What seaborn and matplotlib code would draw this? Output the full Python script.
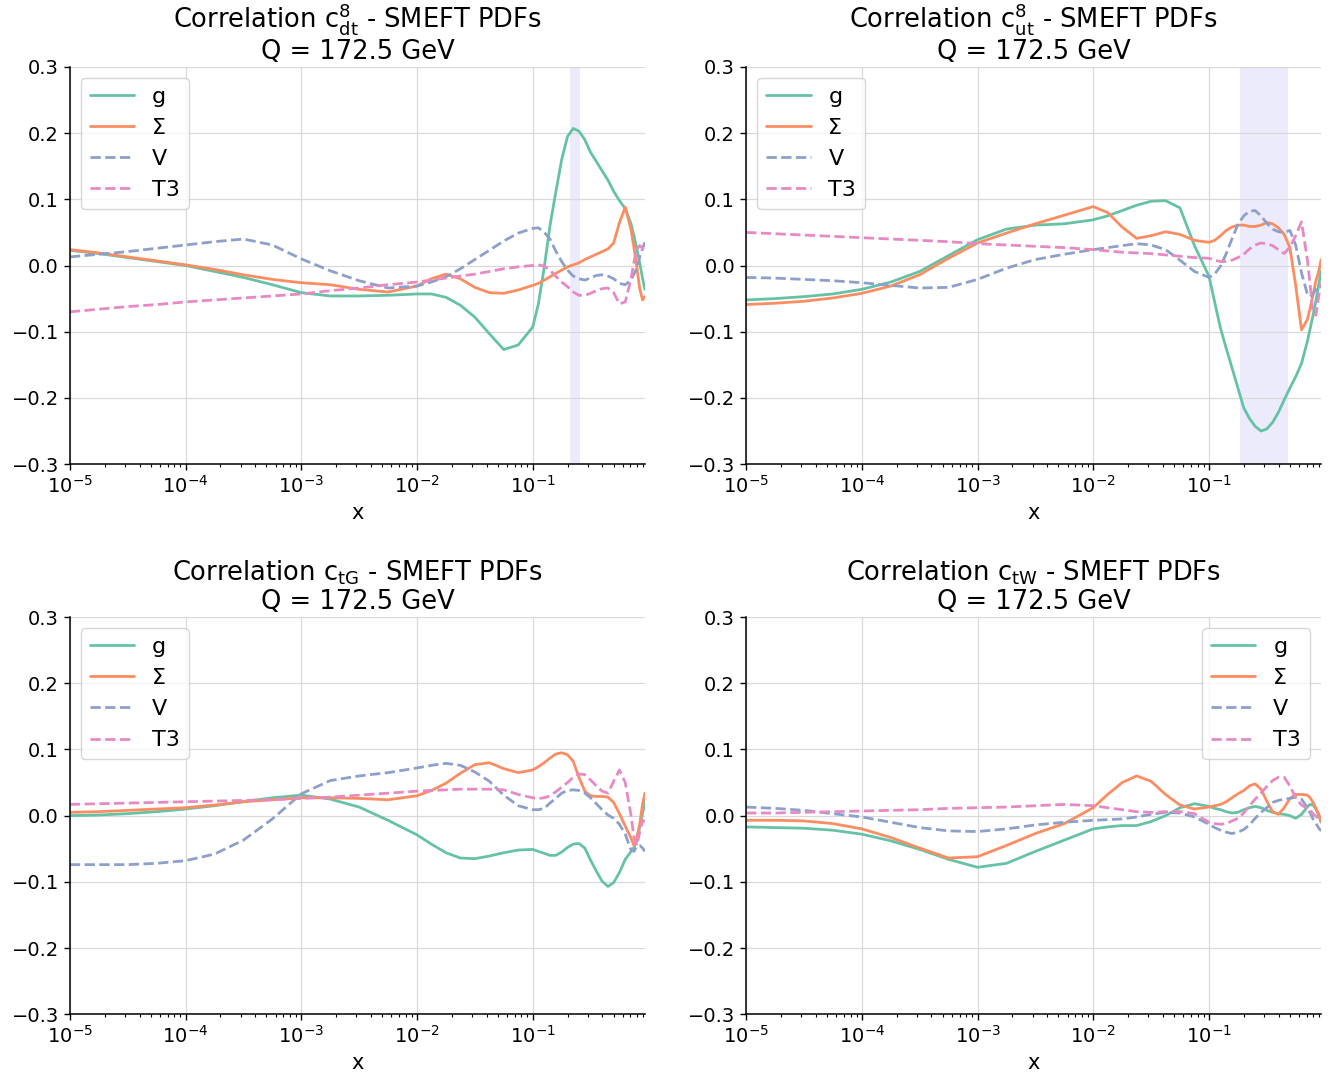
"""
Correlation between SMEFT coefficients and PDF combinations at Q = 172.5 GeV.
"""

import matplotlib

matplotlib.use("Agg")

import matplotlib.pyplot as plt
import seaborn as sns

# momentum fraction grid shared by every curve
X = [1.0e-5, 1.78e-5, 3.16e-5, 5.62e-5, 1.0e-4, 1.78e-4, 3.16e-4, 5.62e-4,
     1.0e-3, 1.78e-3, 3.16e-3, 5.62e-3, 0.01, 0.0133, 0.0178, 0.0237,
     0.0316, 0.0422, 0.0562, 0.075, 0.1, 0.112, 0.126, 0.141, 0.158,
     0.178, 0.2, 0.224, 0.251, 0.282, 0.316, 0.355, 0.398, 0.447, 0.501,
     0.562, 0.631, 0.708, 0.75, 0.794, 0.841, 0.891, 0.933]

PDF_LABELS = ["g", "Σ", "V", "T3"]

# c_dt^8
CDT8_G = [0.023, 0.018, 0.012, 0.006, 0.0, -0.009, -0.018, -0.029, -0.041, -0.046,
          -0.046, -0.045, -0.043, -0.043, -0.048, -0.06, -0.078, -0.103, -0.127, -0.12,
          -0.093, -0.058, -0.002, 0.06, 0.11, 0.16, 0.195, 0.207, 0.203, 0.19,
          0.171, 0.157, 0.143, 0.129, 0.112, 0.098, 0.086, 0.063, 0.045, 0.025,
          0.004, -0.02, -0.036]
CDT8_S = [0.024, 0.019, 0.013, 0.007, 0.001, -0.006, -0.014, -0.021, -0.026, -0.029,
          -0.036, -0.04, -0.031, -0.02, -0.013, -0.02, -0.033, -0.041, -0.042, -0.037,
          -0.03, -0.027, -0.022, -0.017, -0.012, -0.007, -0.002, 0.001, 0.004, 0.009,
          0.013, 0.017, 0.021, 0.025, 0.034, 0.065, 0.088, 0.054, 0.027, -0.002,
          -0.035, -0.052, -0.047]
CDT8_V = [0.013, 0.017, 0.021, 0.026, 0.031, 0.036, 0.04, 0.031, 0.01, -0.008,
          -0.023, -0.034, -0.031, -0.025, -0.017, -0.005, 0.009, 0.023, 0.037, 0.049,
          0.056, 0.057, 0.05, 0.04, 0.022, 0.006, -0.007, -0.016, -0.02, -0.022,
          -0.019, -0.015, -0.014, -0.016, -0.02, -0.027, -0.029, -0.022, -0.013, -0.004,
          0.013, 0.026, 0.035]
CDT8_T3 = [-0.07, -0.066, -0.062, -0.059, -0.055, -0.052, -0.049, -0.046, -0.043, -0.038,
           -0.034, -0.029, -0.025, -0.022, -0.019, -0.016, -0.013, -0.009, -0.005, -0.002,
           0.0, 0.001, -0.001, -0.007, -0.016, -0.025, -0.032, -0.04, -0.045, -0.045,
           -0.042, -0.038, -0.035, -0.034, -0.041, -0.058, -0.055, -0.02, 0.005, 0.025,
           0.03, 0.026, 0.022]

# c_ut^8
CUT8_G = [-0.052, -0.05, -0.047, -0.043, -0.036, -0.025, -0.009, 0.015, 0.039, 0.055,
          0.061, 0.063, 0.069, 0.075, 0.083, 0.091, 0.097, 0.098, 0.087, 0.03,
          -0.016, -0.055, -0.095, -0.125, -0.154, -0.185, -0.215, -0.231, -0.243, -0.25,
          -0.247, -0.237, -0.222, -0.203, -0.185, -0.168, -0.148, -0.115, -0.095, -0.075,
          -0.053, -0.028, -0.008]
CUT8_S = [-0.059, -0.057, -0.054, -0.049, -0.042, -0.031, -0.014, 0.011, 0.034, 0.049,
          0.063, 0.076, 0.089, 0.08, 0.058, 0.041, 0.045, 0.051, 0.047, 0.038,
          0.035, 0.038, 0.045, 0.053, 0.058, 0.061, 0.061, 0.059, 0.059, 0.061,
          0.065, 0.063, 0.057, 0.047, 0.027, -0.03, -0.097, -0.082, -0.064, -0.044,
          -0.023, -0.008, 0.009]
CUT8_V = [-0.018, -0.019, -0.021, -0.023, -0.026, -0.03, -0.034, -0.033, -0.021, -0.004,
          0.009, 0.017, 0.024, 0.027, 0.03, 0.033, 0.031, 0.024, 0.008, -0.009,
          -0.018, -0.013, -0.001, 0.018, 0.04, 0.062, 0.075, 0.082, 0.083, 0.075,
          0.064, 0.055, 0.051, 0.05, 0.053, 0.031, -0.011, -0.043, -0.047, -0.043,
          -0.036, -0.031, -0.03]
CUT8_T3 = [0.05, 0.048, 0.046, 0.044, 0.042, 0.04, 0.038, 0.036, 0.033, 0.031,
           0.029, 0.027, 0.024, 0.022, 0.02, 0.019, 0.018, 0.016, 0.014, 0.012,
           0.011, 0.008, 0.006, 0.006, 0.008, 0.012, 0.017, 0.025, 0.031, 0.034,
           0.033, 0.03, 0.024, 0.018, 0.028, 0.045, 0.066, 0.01, -0.03, -0.072,
           -0.075, -0.045, -0.026]

# c_tG
CTG_G = [0.0, 0.001, 0.003, 0.006, 0.01, 0.015, 0.021, 0.027, 0.031, 0.025,
         0.013, -0.007, -0.029, -0.043, -0.056, -0.064, -0.065, -0.061, -0.056, -0.052,
         -0.051, -0.054, -0.057, -0.06, -0.06, -0.055, -0.048, -0.043, -0.042, -0.049,
         -0.067, -0.084, -0.099, -0.107, -0.101, -0.086, -0.066, -0.054, -0.048, -0.038,
         -0.017, 0.004, 0.022]
CTG_S = [0.005, 0.006, 0.008, 0.01, 0.012, 0.016, 0.021, 0.024, 0.027, 0.027,
         0.026, 0.024, 0.03, 0.038, 0.049, 0.064, 0.077, 0.08, 0.071, 0.065,
         0.069, 0.074, 0.08, 0.087, 0.093, 0.095, 0.092, 0.082, 0.058, 0.037,
         0.03, 0.029, 0.029, 0.028, 0.02, 0.003, -0.016, -0.034, -0.045, -0.033,
         -0.013, 0.018, 0.034]
CTG_V = [-0.074, -0.074, -0.074, -0.072, -0.068, -0.058, -0.037, -0.005, 0.033, 0.053,
         0.06, 0.065, 0.072, 0.076, 0.079, 0.076, 0.066, 0.052, 0.031, 0.015,
         0.009, 0.009, 0.011, 0.019, 0.026, 0.034, 0.038, 0.039, 0.038, 0.034,
         0.027, 0.018, 0.009, 0.001, -0.004, -0.013, -0.028, -0.052, -0.054, -0.046,
         -0.045, -0.049, -0.054]
CTG_T3 = [0.017, 0.018, 0.019, 0.02, 0.021, 0.022, 0.023, 0.024, 0.026, 0.028,
          0.031, 0.034, 0.037, 0.038, 0.039, 0.04, 0.04, 0.04, 0.039, 0.032,
          0.027, 0.026, 0.027, 0.03, 0.036, 0.043, 0.05, 0.058, 0.063, 0.062,
          0.054, 0.045, 0.037, 0.034, 0.052, 0.069, 0.05, 0.0, -0.033, -0.045,
          -0.025, -0.007, -0.009]

# c_tW
CTW_G = [-0.017, -0.018, -0.019, -0.022, -0.028, -0.038, -0.051, -0.066, -0.078, -0.072,
         -0.054, -0.037, -0.02, -0.017, -0.015, -0.015, -0.009, 0.0, 0.012, 0.018,
         0.014, 0.011, 0.009, 0.006, 0.004, 0.005, 0.009, 0.012, 0.014, 0.012,
         0.008, 0.005, 0.003, 0.002, 0.0, -0.004, 0.002, 0.013, 0.017, 0.016,
         0.01, 0.0, -0.01]
CTW_S = [-0.007, -0.007, -0.008, -0.012, -0.02, -0.033, -0.049, -0.064, -0.062, -0.045,
         -0.027, -0.012, 0.012, 0.032, 0.05, 0.06, 0.052, 0.032, 0.016, 0.01,
         0.013, 0.015, 0.017, 0.021, 0.027, 0.033, 0.038, 0.045, 0.048, 0.04,
         0.022, 0.006, 0.002, 0.012, 0.026, 0.032, 0.032, 0.031, 0.027, 0.02,
         0.011, 0.002, -0.009]
CTW_V = [0.013, 0.011, 0.008, 0.003, -0.002, -0.01, -0.018, -0.023, -0.024, -0.02,
         -0.014, -0.01, -0.007, -0.006, -0.005, -0.002, 0.002, 0.005, 0.004, -0.002,
         -0.013, -0.018, -0.022, -0.025, -0.027, -0.025, -0.021, -0.014, -0.004, 0.005,
         0.012, 0.02, 0.023, 0.025, 0.026, 0.028, 0.025, 0.012, 0.004, -0.005,
         -0.012, -0.019, -0.023]
CTW_T3 = [0.004, 0.004, 0.005, 0.006, 0.007, 0.008, 0.009, 0.011, 0.012, 0.013,
          0.015, 0.017, 0.015, 0.012, 0.009, 0.006, 0.005, 0.006, 0.006, 0.003,
          -0.01, -0.012, -0.013, -0.012, -0.008, -0.004, 0.004, 0.015, 0.025, 0.034,
          0.044, 0.053, 0.058, 0.058, 0.045, 0.027, 0.016, 0.011, 0.008, 0.003,
          -0.001, -0.005, -0.008]

TITLES = [
    r"Correlation $c^{8}_{dt}$ - SMEFT PDFs",
    r"Correlation $c^{8}_{ut}$ - SMEFT PDFs",
    r"Correlation $c_{tG}$ - SMEFT PDFs",
    r"Correlation $c_{tW}$ - SMEFT PDFs",
]

# x-range highlighted in each panel (None = no band)
BANDS = [(0.21, 0.255), (0.185, 0.48), None, None]

LEGEND_LOCS = ["upper left", "upper left", "upper left", "upper right"]

Y_TICKS = [-0.3, -0.2, -0.1, 0.0, 0.1, 0.2, 0.3]


def plot_panel(ax, title, curves, band, legend_loc) -> None:
    """
    Draw one correlation panel.
    """

    palette = sns.color_palette("Set2", 4)
    styles = ["-", "-", "--", "--"]

    if band is not None:
        ax.axvspan(band[0], band[1], color="#e6e6fa", alpha=0.8, lw=0, zorder=0)

    for label, values, color, ls in zip(PDF_LABELS, curves, palette, styles):
        sns.lineplot(x=X, y=values, ax=ax, color=color, linestyle=ls,
                     linewidth=2, label=label, solid_joinstyle="round")

    ax.set_xscale("log")
    ax.set_xlim(X[0], X[-1])
    ax.set_ylim(-0.3, 0.3)
    ax.set_yticks(Y_TICKS)
    ax.set_title(title + "\nQ = 172.5 GeV", fontsize=18.5, linespacing=1.1)
    ax.set_xlabel("x", fontsize=15)
    ax.set_ylabel("")
    ax.grid(True, which="major", color="#d9d9d9", linewidth=0.9)
    ax.tick_params(axis="both", which="major", labelsize=14, length=4.5, width=1)
    ax.tick_params(axis="x", which="minor", length=2.5, width=0.8)

    ax.legend(loc=legend_loc, fontsize=16, frameon=True, edgecolor="#cccccc",
              framealpha=0.8, handlelength=2.0)

    sns.despine(ax=ax)


if __name__ == "__main__":

    sns.set_style("ticks")
    plt.rcParams["font.family"] = ["DejaVu Sans"]
    plt.rcParams["mathtext.default"] = "regular"
    plt.rcParams["axes.edgecolor"] = "black"
    plt.rcParams["axes.linewidth"] = 1.1
    plt.rcParams["text.color"] = "black"
    plt.rcParams["axes.labelcolor"] = "black"
    plt.rcParams["xtick.color"] = "black"
    plt.rcParams["ytick.color"] = "black"

    panels = [
        [CDT8_G, CDT8_S, CDT8_V, CDT8_T3],
        [CUT8_G, CUT8_S, CUT8_V, CUT8_T3],
        [CTG_G, CTG_S, CTG_V, CTG_T3],
        [CTW_G, CTW_S, CTW_V, CTW_T3],
    ]

    fig, axes = plt.subplots(2, 2, figsize=(13.44, 10.79), dpi=100)
    fig.subplots_adjust(left=0.052, right=0.983, top=0.938, bottom=0.06,
                        wspace=0.176, hspace=0.385)

    for ax, title, curves, band, loc in zip(axes.flat, TITLES, panels, BANDS, LEGEND_LOCS):
        plot_panel(ax, title, curves, band, loc)

    fig.savefig("out.png", dpi=100)
